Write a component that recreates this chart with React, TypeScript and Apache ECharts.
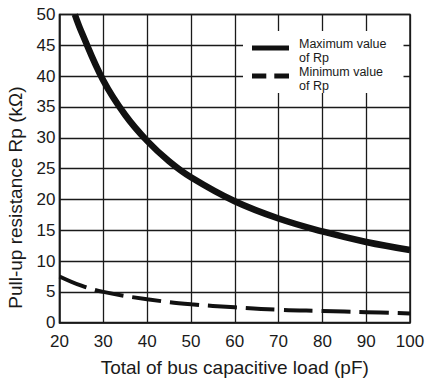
import React, { useEffect, useRef } from "react";
import * as echarts from "echarts";

const xTicks = [20, 30, 40, 50, 60, 70, 80, 90, 100];
const yTicks = [0, 5, 10, 15, 20, 25, 30, 35, 40, 45, 50];

const maxRpX = [23.5, 25, 30, 35, 40, 45, 50, 60, 70, 80, 90, 100];
const maxRpY = [50, 47.2, 39.3, 33.7, 29.5, 26.2, 23.6, 19.7, 16.9, 14.8, 13.1, 11.8];

const minRpX = [20, 25, 30, 40, 50, 60, 70, 80, 90, 100];
const minRpY = [7.5, 6.0, 5.0, 3.8, 3.0, 2.5, 2.1, 1.9, 1.7, 1.5];

const seriesNames = ["Maximum value\nof Rp", "Minimum value\nof Rp"];

const FONT = "'Liberation Sans', Arial, Helvetica, sans-serif";

const solidIcon = "path://M0,1.5H37V6.5H0ZM0,0L0,14M42,0L42,14";
const dashIcon = "path://M0,1.5H14.3V6.5H0ZM22.3,1.5H37V6.5H22.3ZM0,0L0,14M42,0L42,14";

export default function App() {
  const ref = useRef<HTMLDivElement>(null);
  useEffect(() => {
    if (!ref.current) return;
    const chart = echarts.init(ref.current, undefined, { renderer: "svg" });
    const ink = "#1a1a1a";
    chart.setOption({
      animation: false,
      backgroundColor: "#fff",
      textStyle: { fontFamily: FONT },
      grid: {
        left: 59.5,
        right: 22,
        top: 14.5,
        bottom: 58.3,
        containLabel: false,
        outerBoundsMode: "none",
        show: true,
        borderColor: ink,
        borderWidth: 1.5,
        backgroundColor: "transparent",
      },
      legend: {
        left: 243,
        top: 31,
        orient: "vertical",
        backgroundColor: "#fff",
        padding: [6, 17, 0, 9],
        itemGap: 0,
        itemWidth: 42,
        itemHeight: 14,
        symbolKeepAspect: true,
        textStyle: { fontSize: 12.5, lineHeight: 14, color: ink, fontFamily: FONT },
        data: [
          { name: seriesNames[0], icon: solidIcon },
          { name: seriesNames[1], icon: dashIcon },
        ],
      },
      xAxis: {
        type: "value",
        min: xTicks[0],
        max: xTicks[xTicks.length - 1],
        interval: 10,
        name: "Total of bus capacitive load (pF)",
        nameLocation: "middle",
        nameGap: 35,
        nameTextStyle: { fontSize: 19, color: ink, fontFamily: FONT },
        axisLine: { lineStyle: { color: ink, width: 1.5 } },
        axisTick: { show: false },
        axisLabel: { fontSize: 17, color: ink, margin: 10, fontFamily: FONT },
        splitLine: { show: true, lineStyle: { color: ink, width: 1.3 } },
      },
      yAxis: {
        type: "value",
        min: yTicks[0],
        max: yTicks[yTicks.length - 1],
        interval: 5,
        name: "Pull-up resistance Rp (kΩ)",
        nameLocation: "middle",
        nameGap: 35,
        nameTextStyle: { fontSize: 19, color: ink, fontFamily: FONT, padding: [0, 58, 0, 0] },
        axisLine: { show: true, lineStyle: { color: ink, width: 1.5 } },
        axisTick: { show: false },
        axisLabel: { fontSize: 17, color: ink, margin: 4, fontFamily: FONT },
        splitLine: { show: true, lineStyle: { color: ink, width: 1.3 } },
      },
      series: [
        {
          name: seriesNames[0],
          type: "line",
          smooth: 0.4,
          symbol: "none",
          clip: true,
          data: maxRpX.map((x, i) => [x, maxRpY[i]]),
          lineStyle: { color: "#111", width: 6.5, type: "solid", cap: "butt" },
          itemStyle: { color: "#111" },
          z: 3,
        },
        {
          name: seriesNames[1],
          type: "line",
          smooth: 0.4,
          symbol: "none",
          clip: true,
          data: minRpX.map((x, i) => [x, minRpY[i]]),
          lineStyle: { color: "#111", width: 4, type: [29, 9], cap: "butt" },
          itemStyle: { color: "#111" },
          z: 3,
        },
      ],
    });
    return () => chart.dispose();
  }, []);
  return <div ref={ref} style={{ width: 432, height: 381, position: "absolute", left: 0, top: 0 }} />;
}
